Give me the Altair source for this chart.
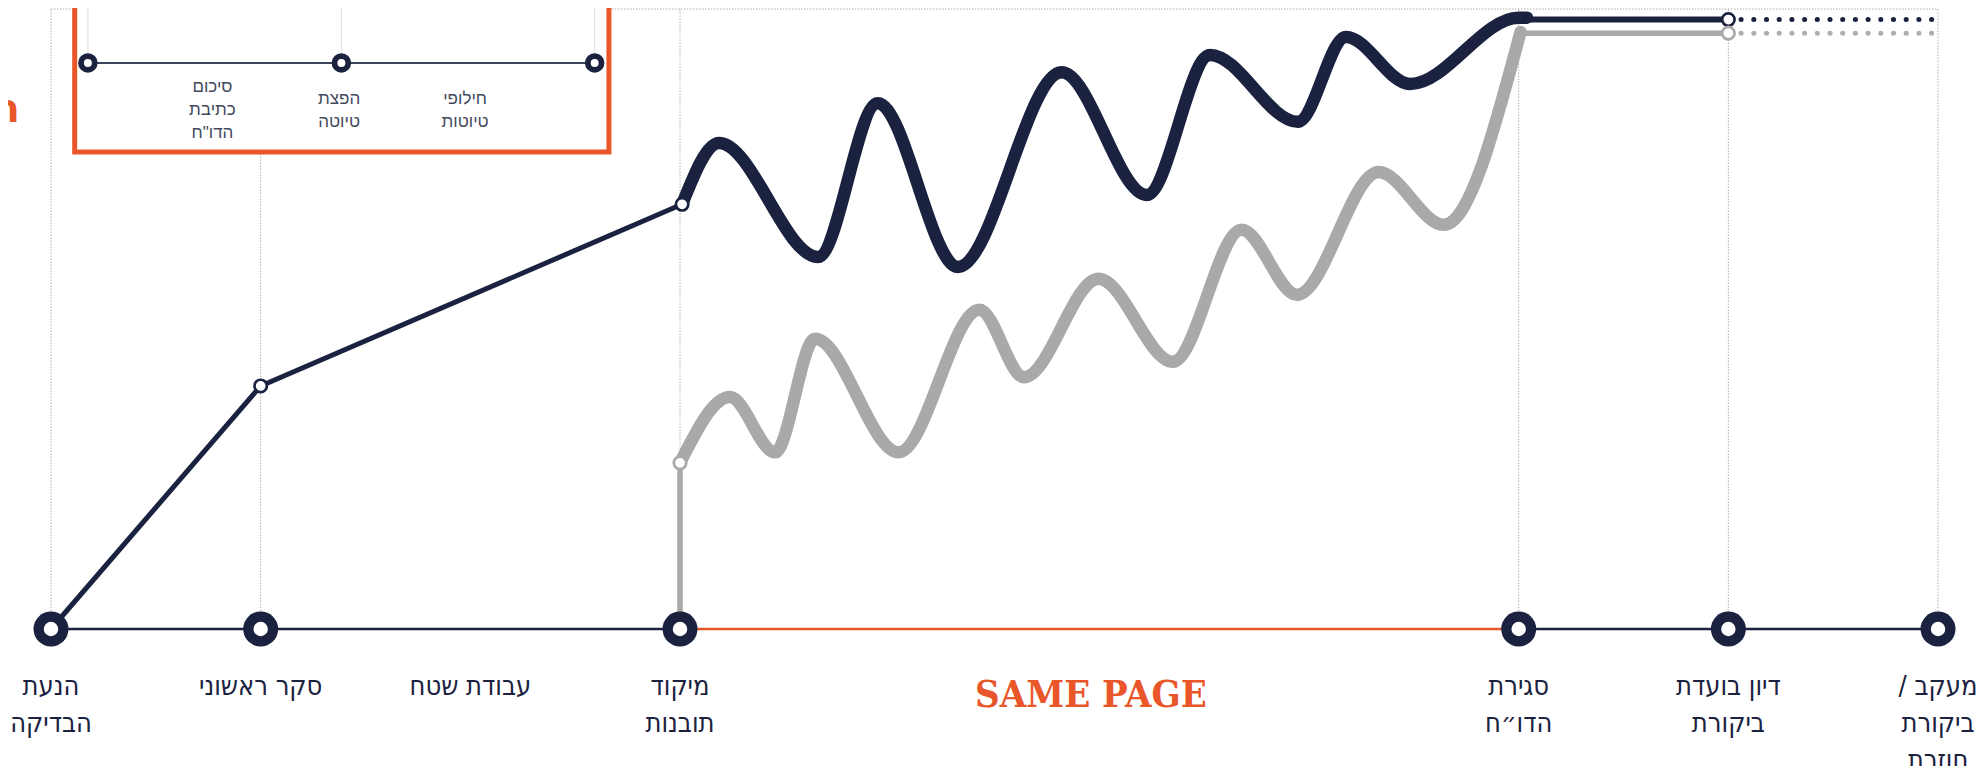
import altair as alt
import pandas as pd

# ---------------- data ----------------
stage_x = [0, 1, 2, 3, 7, 8, 9]
stage_labels = ["הנעת\nהבדיקה", "סקר ראשוני", "עבודת שטח", "מיקוד\nתובנות",
                "סגירת\nהדו״ח", "דיון בועדת\nביקורת", "/ מעקב\nביקורת\nחוזרת"]
node_x = [0, 1, 3, 7, 8, 9]
grid_x = [0, 1, 3, 7, 8, 9]

timeline_dark_a = [0, 3]
timeline_orange = [3, 7]
timeline_dark_b = [7, 9]

dark_path_x = [0, 1.0, 3.01]
dark_path_y = [0, 39.2, 68.5]

# peaks / troughs of the dark wave
dark_wave_x = [3.010, 3.186, 3.658, 3.943, 4.326, 4.820, 5.226, 5.528, 5.947, 6.176,
               6.482, 7.000, 7.040]
dark_wave_y = [68.5, 78.4, 60.0, 84.8, 58.4, 89.8, 70.0, 92.6, 81.8, 95.5,
               87.9, 98.6, 98.6]
dark_flat_x = [7.04, 8.0]
dark_flat_y = [98.3, 98.3]
dark_dots_x = [8.0, 9.0]
dark_dots_y = [98.3, 98.3]

gray_stem_x = [3.0, 3.0]
gray_stem_y = [0, 26.8]
# peaks / troughs of the gray wave
gray_wave_x = [3.000, 3.238, 3.453, 3.644, 4.043, 4.428, 4.641, 4.996, 5.351, 5.678,
               5.943, 6.332, 6.643, 7.009]
gray_wave_y = [26.8, 37.4, 28.5, 46.8, 28.5, 51.5, 40.6, 56.5, 43.1, 64.4,
               53.9, 73.7, 65.2, 96.3]
gray_flat_x = [7.009, 8.0]
gray_flat_y = [96.1, 96.1]
gray_dots_x = [8.0, 9.0]
gray_dots_y = [96.1, 96.1]

small_nodes_x = [1.0, 3.01, 8.0]
small_nodes_y = [39.2, 68.5, 98.3]
small_gray_nodes_x = [3.0, 8.0]
small_gray_nodes_y = [26.8, 96.1]

inset_node_x = [0.176, 1.385, 2.593]
inset_line_y = 91.3
inset_labels = ["סיכום\nכתיבת\nהדו\"ח", "הפצת\nטיוטה", "חילופי\nטיוטות"]
inset_label_x = [0.770, 1.374, 1.975]
inset_label_y = [86.66, 84.6, 84.6]
inset_box = {"x": 0.113, "x2": 2.661, "y": 76.94, "y2": 106.0}

same_page_text = "SAME PAGE"
title_glyph = "ח"

# ---------------- layout ----------------
W, H = 1969, 758
X0_PX, PX_PER_STAGE = 51 - 8, 209.67
Y0_PX, PX_PER_UNIT = 629 - 8, 6.2
x_dom = [(0 - X0_PX) / PX_PER_STAGE, (W - X0_PX) / PX_PER_STAGE]
y_dom = [(Y0_PX - H) / PX_PER_UNIT, Y0_PX / PX_PER_UNIT]

NAVY = "#1b2240"
ORANGE = "#e8562a"
GRAY = "#a9a9a9"
GRID = "#b0b0b0"

xs = alt.Scale(domain=x_dom, nice=False, zero=False)
ys = alt.Scale(domain=y_dom, nice=False, zero=False)
X = alt.X("x:Q", scale=xs, axis=None)
Y = alt.Y("y:Q", scale=ys, axis=None)


def df_xy(xv, yv):
    return pd.DataFrame({"x": xv, "y": yv, "i": list(range(len(xv)))})


def line(xv, yv, color, width, interp="linear", dash=None, cap="round"):
    kw = dict(color=color, strokeWidth=width, interpolate=interp, strokeCap=cap,
              strokeJoin="round")
    if dash is not None:
        kw["strokeDash"] = dash
    return alt.Chart(df_xy(xv, yv)).mark_line(**kw).encode(x=X, y=Y, order="i:Q")


# gridlines
grid_df = pd.DataFrame({"x": grid_x, "y": [0] * len(grid_x), "y2": [100] * len(grid_x)})
vgrid = alt.Chart(grid_df).mark_rule(color=GRID, strokeWidth=1, strokeDash=[1.5, 1.5]).encode(
    x=X, y=Y, y2="y2:Q")
hgrid = alt.Chart(pd.DataFrame({"x": [0], "x2": [9], "y": [100]})).mark_rule(
    color=GRID, strokeWidth=1, strokeDash=[1.5, 1.5]).encode(x=X, x2="x2:Q", y=Y)

# inset box
box = alt.Chart(pd.DataFrame([inset_box])).mark_rect(
    fill="white", stroke=ORANGE, strokeWidth=5).encode(x=X, x2="x2:Q", y=Y, y2="y2:Q")
inset_v = alt.Chart(pd.DataFrame({"x": inset_node_x, "y": [inset_line_y] * 3, "y2": [103] * 3})).mark_rule(
    color="#dedede", strokeWidth=1).encode(x=X, y=Y, y2="y2:Q")
inset_line = line([inset_node_x[0], inset_node_x[-1]], [inset_line_y] * 2, "#3b4157", 2, cap="butt")
inset_nodes_df = pd.DataFrame({"x": inset_node_x, "y": [inset_line_y] * 3})
inset_outer = alt.Chart(inset_nodes_df).mark_circle(size=380, color=NAVY, opacity=1).encode(x=X, y=Y)
inset_inner = alt.Chart(inset_nodes_df).mark_circle(size=64, color="white", opacity=1).encode(x=X, y=Y)
inset_text = alt.Chart(pd.DataFrame({"x": inset_label_x, "y": inset_label_y, "t": inset_labels})).mark_text(
    align="center", baseline="alphabetic", lineBreak="\n", lineHeight=23,
    font="Liberation Sans", fontSize=17, color="#444a5e").encode(x=X, y=Y, text="t:N")

# timeline
tl1 = line(timeline_dark_a, [0, 0], NAVY, 2.6, cap="butt")
tl2 = line(timeline_orange, [0, 0], ORANGE, 2.6, cap="butt")
tl3 = line(timeline_dark_b, [0, 0], NAVY, 2.6, cap="butt")

# series
dark_thin = line(dark_path_x, dark_path_y, NAVY, 5)
gray_stem = line(gray_stem_x, gray_stem_y, GRAY, 5.5, cap="butt")
gray_wave = line(gray_wave_x, gray_wave_y, GRAY, 12.5, interp="monotone")
gray_flat = line(gray_flat_x, gray_flat_y, GRAY, 5.5)
gray_dots = line(gray_dots_x, gray_dots_y, "#aeaeae", 5, dash=[0.1, 12.6])
dark_wave = line(dark_wave_x, dark_wave_y, NAVY, 12.5, interp="monotone")
dark_flat = line(dark_flat_x, dark_flat_y, NAVY, 6)
dark_dots = line(dark_dots_x, dark_dots_y, NAVY, 5, dash=[0.1, 12.6])

small_dark = alt.Chart(df_xy(small_nodes_x, small_nodes_y)).mark_point(
    shape="circle", size=154, fill="white", stroke=NAVY, strokeWidth=2.7,
    opacity=1, fillOpacity=1).encode(x=X, y=Y)
small_gray = alt.Chart(df_xy(small_gray_nodes_x, small_gray_nodes_y)).mark_point(
    shape="circle", size=154, fill="white", stroke=GRAY, strokeWidth=2.7,
    opacity=1, fillOpacity=1).encode(x=X, y=Y)

nodes_df = pd.DataFrame({"x": node_x, "y": [0] * len(node_x)})
big_outer = alt.Chart(nodes_df).mark_circle(size=1225, color=NAVY, opacity=1).encode(x=X, y=Y)
big_inner = alt.Chart(nodes_df).mark_circle(size=209, color="white", opacity=1).encode(x=X, y=Y)

labels = alt.Chart(pd.DataFrame({"x": stage_x, "y": [-10.65] * len(stage_x), "t": stage_labels})).mark_text(
    align="center", baseline="alphabetic", lineBreak="\n", lineHeight=37,
    font="DejaVu Sans Condensed", fontSize=27,
    color=NAVY).encode(x=X, y=Y, text="t:N")

same_page = alt.Chart(pd.DataFrame({"x": [4.96], "y": [-12.53], "t": [same_page_text]})).mark_text(
    align="center", baseline="alphabetic", font="DejaVu Serif Condensed", fontWeight="bold",
    fontSize=38, color=ORANGE).encode(x=X, y=Y, text="t:N")

glyph = alt.Chart(pd.DataFrame({"x": [-0.148], "y": [81.77], "t": [title_glyph]})).mark_text(
    align="right", baseline="alphabetic", font="DejaVu Sans", fontWeight="bold",
    fontSize=40, color=ORANGE).encode(x=X, y=Y, text="t:N")

chart = alt.layer(
    vgrid, hgrid, box, inset_v, inset_line, inset_outer, inset_inner, inset_text,
    tl1, tl2, tl3, dark_thin, gray_stem, gray_wave, gray_flat, gray_dots,
    dark_wave, dark_flat, dark_dots, small_dark, small_gray,
    big_outer, big_inner, labels, same_page, glyph,
).properties(
    width=W, height=H, padding=0, autosize="none", background="white"
).configure_view(stroke=None)

chart.save("out.html", embed_options={"renderer": "svg", "actions": False})
